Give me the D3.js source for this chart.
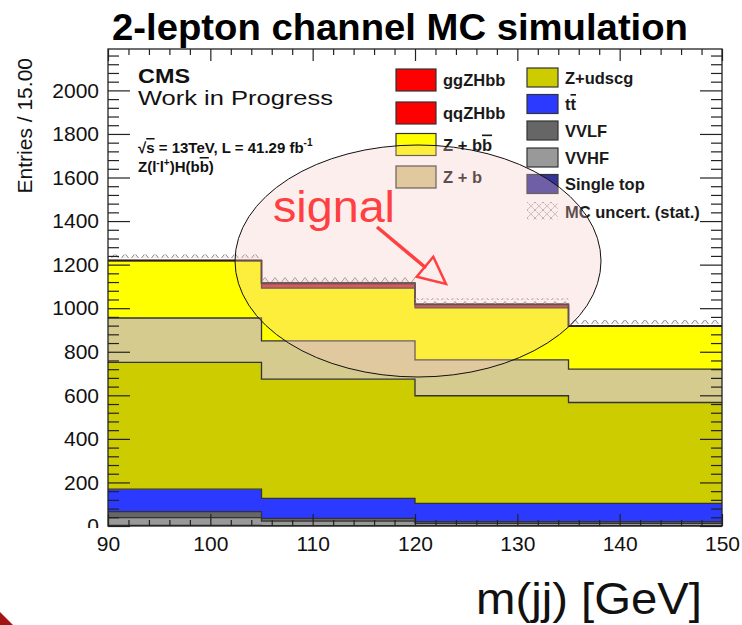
<!DOCTYPE html>
<html><head><meta charset="utf-8">
<script src="https://cdn.jsdelivr.net/npm/d3@7"></script>
<style>
body{margin:0;background:#fff}
svg{display:block}
text{font-family:"Liberation Sans",Arial,Helvetica,sans-serif}
</style>
</head><body>
<svg id="c" width="742" height="625"></svg>
<script>
// ---- data ----
const binLow  = [90, 105, 120, 135];
const binHigh = [105, 120, 135, 150];
const ggZHbb    = [0, 4, 3, 0];
const qqZHbb    = [1, 20, 14, 1];
const Zbb       = [263, 242, 238, 197];
const Zb        = [204, 176, 165, 153];
const Zudscg    = [582, 547, 494, 463];
const ttbar     = [103, 92, 84, 84];
const VVLF      = [28, 13, 8, 8];
const VVHF      = [35, 20, 10, 10];
const singleTop = [3, 2, 2, 2];
const xTicks = [90, 100, 110, 120, 130, 140, 150];
const yTicks = [0, 200, 400, 600, 800, 1000, 1200, 1400, 1600, 1800, 2000];

const svg = d3.select('#c');
const X0 = 108, X1 = 722, Y0 = 526, Y1 = 49;
const x = d3.scaleLinear().domain([90, 150]).range([X0, X1]);
const y = d3.scaleLinear().domain([0, 2190]).range([Y0, Y1]);

const series = [
  {key: 'Single top', values: singleTop, color: '#333399'},
  {key: 'VVHF', values: VVHF, color: '#999999'},
  {key: 'VVLF', values: VVLF, color: '#666666'},
  {key: 'tt', values: ttbar, color: '#2c3aff'},
  {key: 'Z+udscg', values: Zudscg, color: '#cdcc00'},
  {key: 'Z + b', values: Zb, color: '#d6cb8e'},
  {key: 'Z + bb', values: Zbb, color: '#ffff00'},
  {key: 'qqZHbb', values: qqZHbb, color: '#ff0000', plotColor: '#c23030'},
  {key: 'ggZHbb', values: ggZHbb, color: '#ff0000', plotColor: '#b02828'}
];

const rows = binLow.map((lo, i) => {
  const r = {lo: lo, hi: binHigh[i]};
  series.forEach(s => r[s.key] = s.values[i]);
  return r;
});
const stacked = d3.stack().keys(series.map(s => s.key))(rows);

const defs = svg.append('defs');
const hp = defs.append('pattern').attr('id', 'humps').attr('patternUnits', 'userSpaceOnUse')
  .attr('width', 10).attr('height', 6).attr('x', X0 + 2).attr('y', 0);
hp.append('path').attr('d', 'M1.5,6 L5,1.5 L8.5,6').attr('fill', '#f2f2f2').attr('stroke', '#8a8a8a').attr('stroke-width', 1);
const cp = defs.append('pattern').attr('id', 'cross').attr('patternUnits', 'userSpaceOnUse')
  .attr('width', 8).attr('height', 8).attr('x', 527).attr('y', 202);
cp.append('path').attr('d', 'M0,0 L8,8 M8,0 L0,8').attr('stroke', '#a0a0a0').attr('stroke-width', 1).attr('stroke-dasharray', '2,1');

const pts = layer => layer.flatMap(d => [
  {x: d.data.lo, y0: d[0], y1: d[1]},
  {x: d.data.hi, y0: d[0], y1: d[1]}
]);
const area = d3.area().x(p => x(p.x)).y0(p => y(p.y0)).y1(p => y(p.y1));
const topLine = d3.line().x(p => x(p.x)).y(p => y(p.y1));

const gStack = svg.append('g');
stacked.forEach((layer, i) => {
  gStack.append('path').attr('d', area(pts(layer))).attr('fill', series[i].plotColor || series[i].color).attr('stroke', 'none');
});
stacked.forEach((layer, i) => {
  gStack.append('path').attr('d', topLine(pts(layer))).attr('fill', 'none')
    .attr('stroke', i >= 7 ? '#6a1a1a' : '#333').attr('stroke-width', 1.3);
});

const totals = rows.map((r, i) => d3.sum(series, s => s.values[i]));
svg.append('g').selectAll('rect').data(rows).join('rect')
  .attr('x', d => x(d.lo)).attr('width', d => x(d.hi) - x(d.lo))
  .attr('y', (d, i) => y(totals[i]) - 6).attr('height', 6)
  .attr('fill', 'url(#humps)');
svg.append('path').attr('d', topLine(pts(stacked[stacked.length - 1])))
  .attr('fill', 'none').attr('stroke', '#222').attr('stroke-width', 1.4);

// ---- axes ----
const fmt = d3.format('d');
const styleAxis = g => { g.select('.domain').remove(); g.selectAll('line').attr('stroke', '#222').attr('stroke-width', 1.2); g.selectAll('text').attr('font-size', 21).attr('fill', '#111').attr('font-family', '"Liberation Sans",Arial,sans-serif'); };
const yMinor = d3.range(0, 2190, 40).filter(v => v % 200 !== 0);
const xMinor = d3.range(90, 151, 2).filter(v => v % 10 !== 0);

defs.append('clipPath').attr('id', 'lclip').append('rect').attr('x', -200).attr('y', -100).attr('width', 400).attr('height', 528 + 100);
svg.append('g').attr('transform', `translate(${X0},0)`).attr('clip-path', 'url(#lclip)')
  .call(d3.axisLeft(y).tickValues(yTicks).tickSize(-22).tickPadding(9).tickFormat(fmt)).call(styleAxis);
svg.append('g').attr('transform', `translate(${X0},0)`)
  .call(d3.axisLeft(y).tickValues(yMinor).tickSize(-11).tickFormat('')).call(styleAxis);
svg.append('g').attr('transform', `translate(${X1},0)`)
  .call(d3.axisRight(y).tickValues(yTicks).tickSize(-22).tickFormat('')).call(styleAxis);
svg.append('g').attr('transform', `translate(${X1},0)`)
  .call(d3.axisRight(y).tickValues(yMinor).tickSize(-11).tickFormat('')).call(styleAxis);
svg.append('g').attr('transform', `translate(0,${Y0})`)
  .call(d3.axisBottom(x).tickValues(xTicks).tickSize(-12).tickPadding(10).tickFormat(fmt)).call(styleAxis);
svg.append('g').attr('transform', `translate(0,${Y0})`)
  .call(d3.axisBottom(x).tickValues(xMinor).tickSize(-6).tickFormat('')).call(styleAxis);
svg.append('g').attr('transform', `translate(0,${Y1})`)
  .call(d3.axisTop(x).tickValues(xTicks).tickSize(-12).tickFormat('')).call(styleAxis);
svg.append('g').attr('transform', `translate(0,${Y1})`)
  .call(d3.axisTop(x).tickValues(xMinor).tickSize(-6).tickFormat('')).call(styleAxis);

svg.append('rect').attr('x', X0).attr('y', Y1).attr('width', X1 - X0).attr('height', Y0 - Y1)
  .attr('fill', 'none').attr('stroke', '#222').attr('stroke-width', 1.3);

svg.append('text').attr('transform', 'translate(32,58) rotate(-90)').attr('text-anchor', 'end')
  .attr('font-size', 21).attr('fill', '#111').text('Entries / 15.00');
svg.append('text').attr('x', 476).attr('y', 614).attr('font-size', 44).attr('fill', '#111')
  .attr('textLength', 226).attr('lengthAdjust', 'spacingAndGlyphs').text('m(jj) [GeV]');

svg.append('text').attr('x', 112).attr('y', 40).attr('font-size', 37).attr('font-weight', 'bold')
  .attr('fill', '#000').attr('textLength', 576).attr('lengthAdjust', 'spacingAndGlyphs')
  .text('2-lepton channel MC simulation');

svg.append('text').attr('x', 138).attr('y', 83).attr('font-size', 21).attr('font-weight', 'bold')
  .attr('fill', '#111').attr('textLength', 52).attr('lengthAdjust', 'spacingAndGlyphs').text('CMS');
svg.append('text').attr('x', 138).attr('y', 105).attr('font-size', 21).attr('fill', '#111')
  .attr('textLength', 195).attr('lengthAdjust', 'spacingAndGlyphs').text('Work in Progress');
const t1 = svg.append('text').attr('x', 138).attr('y', 153).attr('font-size', 15).attr('font-weight', 'bold').attr('fill', '#111');
t1.append('tspan').text('√');
t1.append('tspan').attr('text-decoration', 'overline').text('s');
t1.append('tspan').text(' = 13TeV, L = 41.29 fb');
t1.append('tspan').attr('font-size', 10).attr('dy', -7).text('-1');
const t2 = svg.append('text').attr('x', 138).attr('y', 172).attr('font-size', 15).attr('font-weight', 'bold').attr('fill', '#111');
t2.append('tspan').text('Z(l');
t2.append('tspan').attr('font-size', 10).attr('dy', -6).text('-');
t2.append('tspan').attr('dy', 6).text('l');
t2.append('tspan').attr('font-size', 10).attr('dy', -6).text('+');
t2.append('tspan').attr('dy', 6).text(')H(b');
t2.append('tspan').attr('text-decoration', 'overline').text('b');
t2.append('tspan').text(')');

// ---- legend ----
const byKey = k => series.find(s => s.key === k);
const leg1 = [
  {key: 'ggZHbb', y: 69}, {key: 'qqZHbb', y: 102}, {key: 'Z + bb', y: 133.5, bar: true}, {key: 'Z + b', y: 166}
];
const leg2 = [
  {key: 'Z+udscg', y: 68}, {key: 'tt', y: 94.5, bar: true}, {key: 'VVLF', y: 121}, {key: 'VVHF', y: 148}, {key: 'Single top', y: 174.5}
];
const gl = svg.append('g');
function legText(g, xx, yy, key, bar) {
  const t = g.append('text').attr('x', xx).attr('y', yy).attr('font-size', 16.5).attr('font-weight', 'bold').attr('fill', '#1a1a1a');
  if (bar) {
    const base = key.slice(0, -1), last = key.slice(-1);
    t.append('tspan').text(base);
    t.append('tspan').attr('text-decoration', 'overline').text(last);
  } else t.text(key);
}
leg1.forEach(e => {
  gl.append('rect').attr('x', 396).attr('y', e.y).attr('width', 40).attr('height', 22)
    .attr('fill', byKey(e.key).color).attr('stroke', '#333').attr('stroke-width', 1.2);
  legText(gl, 443, e.y + 17, e.key, e.bar);
});
leg2.forEach(e => {
  gl.append('rect').attr('x', 527).attr('y', e.y).attr('width', 31).attr('height', 19)
    .attr('fill', byKey(e.key).color).attr('stroke', '#333').attr('stroke-width', 1.2);
  legText(gl, 565, e.y + 15.5, e.key, e.bar);
});
gl.append('rect').attr('x', 527).attr('y', 202).attr('width', 31).attr('height', 18).attr('fill', 'url(#cross)');
legText(gl, 565, 217.5, 'MC uncert. (stat.)', false);

// ---- annotation ----
svg.append('ellipse').attr('cx', 418).attr('cy', 261).attr('rx', 183).attr('ry', 116)
  .attr('fill', 'rgb(248,198,200)').attr('fill-opacity', 0.3).attr('stroke', '#111').attr('stroke-width', 1);
svg.append('text').attr('x', 273).attr('y', 222).attr('font-size', 45).attr('fill', '#ff4040')
  .attr('textLength', 122).attr('lengthAdjust', 'spacingAndGlyphs').text('signal');
svg.append('line').attr('x1', 377).attr('y1', 227).attr('x2', 426).attr('y2', 268)
  .attr('stroke', '#ff4040').attr('stroke-width', 3.5);
svg.append('polygon').attr('points', '416.7,276.7 433.3,256.7 446,284')
  .attr('fill', 'none').attr('stroke', '#ff4040').attr('stroke-width', 2.5).attr('stroke-linejoin', 'miter');

svg.append('polygon').attr('points', '0,612 13,625 0,625').attr('fill', '#a31515');
</script>
</body></html>
